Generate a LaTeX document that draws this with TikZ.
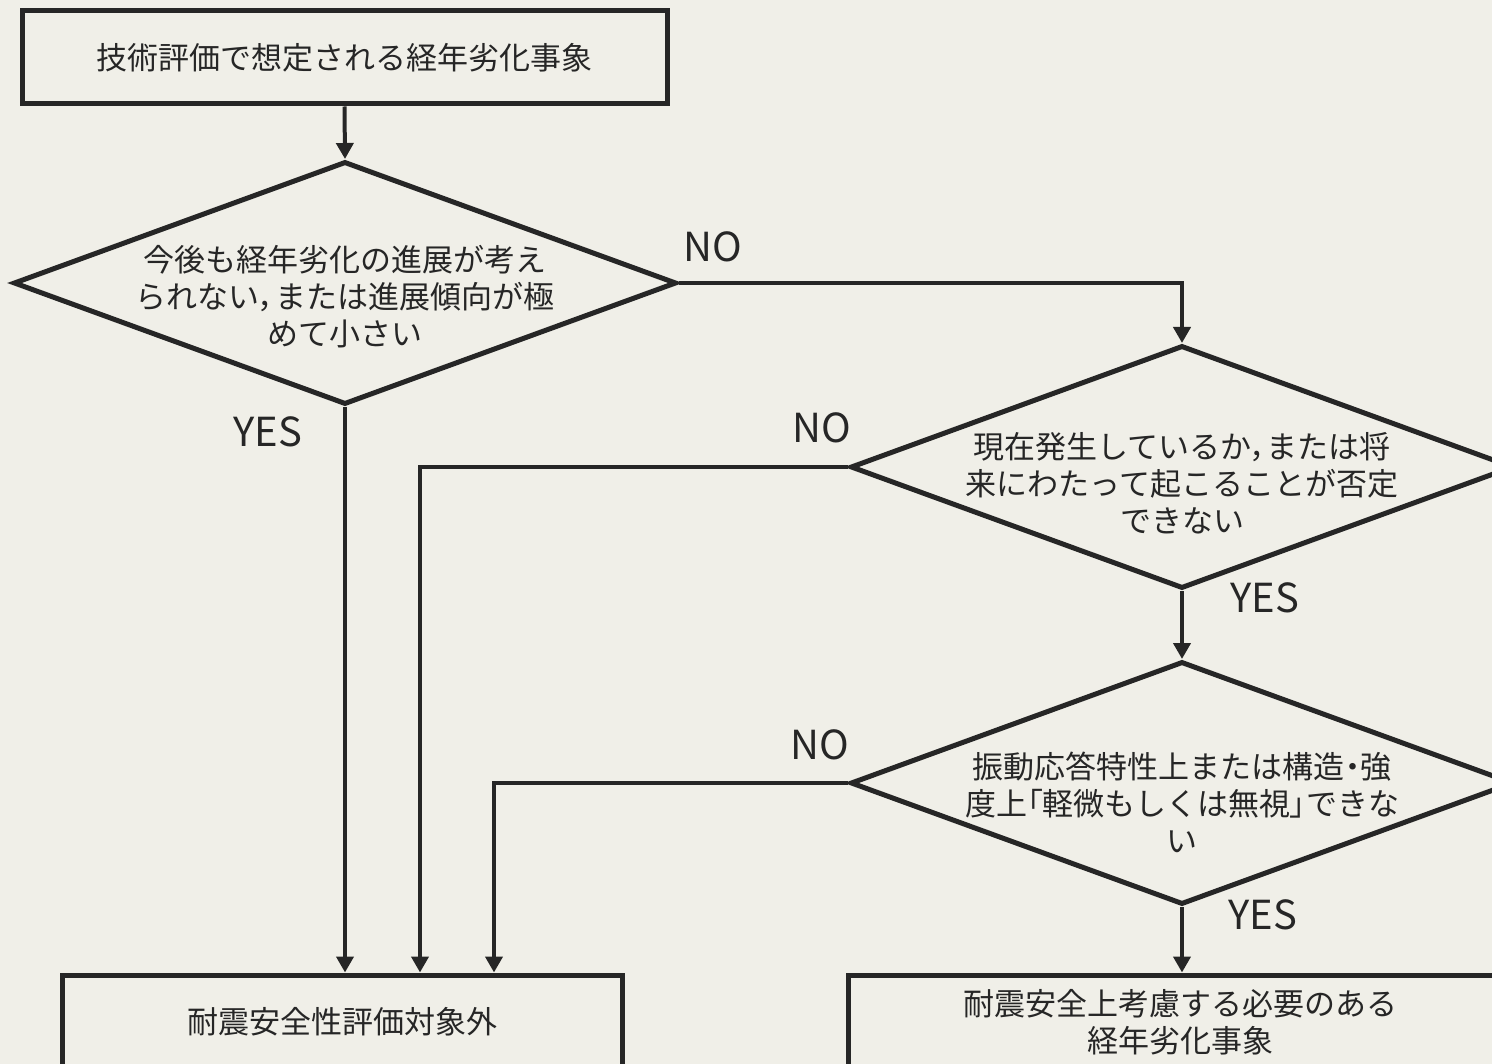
\documentclass[tikz,border=0pt]{standalone}
\usepackage{fontspec}
\setmainfont{Noto Sans CJK JP}
\newfontfamily\pfont[RawFeature=+palt]{Noto Sans CJK JP}
\usetikzlibrary{shapes.geometric,arrows.meta}
\definecolor{paper}{RGB}{240,239,232}
\definecolor{ink}{RGB}{38,38,38}
\begin{document}
\begin{tikzpicture}[x=1pt,y=-1pt,
  font=\fontsize{31}{37}\selectfont,
  box/.style={draw=ink, line width=5pt, rectangle, inner sep=0pt, align=center},
  dia/.style={draw=ink, line width=5pt, diamond, inner sep=0pt, minimum width=663pt, minimum height=243pt},
  dtext/.style={align=center, text=ink, inner sep=0pt},
  lbl/.style={font=\fontsize{40}{40}\selectfont, text=ink, inner sep=0pt},
  arr/.style={draw=ink, line width=4pt, -{Triangle[width=17pt,length=16pt]}},
  conn/.style={draw=ink, line width=4pt}]
\useasboundingbox (0,0) rectangle (1492,1064);
\clip (0,0) rectangle (1492,1064);
\fill[paper] (0,0) rectangle (1492,1064);

\node[box, minimum width=645pt, minimum height=93pt, text=ink] (top) at (344.5,57.5) {技術評価で想定される経年劣化事象};

\node[dia] (d1) at (345,283) {};
\node[dtext] (t1) at (345,297) {今後も経年劣化の進展が考え\\られない{\pfont，}または進展傾向が極\\めて小さい};

\node[dia] (d2) at (1182,467) {};
\node[dtext] (t2) at (1182,483) {現在発生しているか{\pfont，}または将\\来にわたって起こることが否定\\できない};

\node[dia] (d3) at (1182,783) {};
\node[dtext] (t3) at (1182,802) {振動応答特性上または構造{\pfont ・}強\\度上{\pfont 「}軽微もしくは無視{\pfont 」}できな\\い};

\node[box, minimum width=560pt, minimum height=94pt, text=ink] (bl) at (342,1022) {耐震安全性評価対象外};
\node[box, minimum width=664pt, minimum height=94pt, text=ink] (br) at (1180,1022) {耐震安全上考慮する必要のある\\経年劣化事象};

\draw[arr] (top.south) -- (d1.north);
\draw[arr] (d1.east) -| (d2.north);
\draw[arr] (d1.south) -- (d1.south |- bl.north);
\draw[arr] (d2.west) -| ([xshift=78pt]bl.north);
\draw[arr] (d2.south) -- (d3.north);
\draw[arr] (d3.west) -| ([xshift=152pt]bl.north);
\draw[arr] (d3.south) -- (d3.south |- br.north);

\node[lbl] (no1) at (713,247) {NO};
\node[lbl] (yes1) at (268,432) {YES};
\node[lbl] (no2) at (822,428) {NO};
\node[lbl] (yes2) at (1265,598) {YES};
\node[lbl] (no3) at (820,745) {NO};
\node[lbl] (yes3) at (1263,915) {YES};
\end{tikzpicture}
\end{document}
